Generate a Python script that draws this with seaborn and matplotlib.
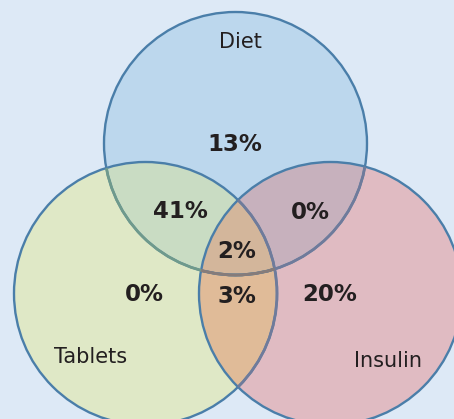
import numpy as np
import matplotlib
matplotlib.use("Agg")
import matplotlib.pyplot as plt
from matplotlib.patches import Circle, PathPatch
from matplotlib.path import Path
import seaborn as sns

# Set names and share of patients in each region of the diagram
set_names = ["Diet", "Tablets", "Insulin"]
region_keys = ["D", "T", "I", "DT", "DI", "TI", "DTI"]
region_pct = [13, 0, 20, 41, 0, 3, 2]

sns.set_theme(style="white")
plt.rcParams["font.family"] = ["DejaVu Sans"]

BG = "#dde9f6"
EDGE = "#4a7ea9"
region_colors = {
    "D": "#bcd7ed",
    "T": "#dfe8c6",
    "I": "#e0bbc2",
    "DT": "#c9dcc3",
    "DI": "#c7b1bd",
    "TI": "#e0bb98",
    "DTI": "#d3b69b",
}
# outline tone where an earlier circle's edge is seen through a later one
edge_under = {"Tablets": "#6f9a8c", "Insulin": "#6f7b9b"}
edge_under_both = "#867c7a"

# Circle layout (pixel-like coordinates, y grows downward)
R = 131.5
centers = {"Diet": (235.5, 143.5), "Tablets": (145.5, 293.5), "Insulin": (330.5, 293.5)}
short = {"Diet": "D", "Tablets": "T", "Insulin": "I"}
label_pos = {
    "D": (235, 144), "T": (144, 294), "I": (330, 294),
    "DT": (180, 211), "DI": (310, 212), "TI": (237, 296), "DTI": (237, 251),
}
name_pos = {"Diet": (240, 42), "Tablets": (91, 357), "Insulin": (388, 361)}

fig = plt.figure(figsize=(4.54, 4.19), dpi=100)
fig.patch.set_facecolor(BG)
ax = fig.add_axes([0, 0, 1, 1])
ax.set_facecolor(BG)
ax.set_xlim(0, 454)
ax.set_ylim(419, 0)
ax.axis("off")


def circ(name, **kw):
    return Circle(centers[name], R, transform=ax.transData, **kw)


def pair_key(a, b):
    k = short[a] + short[b]
    return "".join(sorted(k, key="DTI".index))


# single-set fills
for key, name in [("T", "Tablets"), ("I", "Insulin"), ("D", "Diet")]:
    ax.add_patch(circ(name, facecolor=region_colors[key], edgecolor="none", zorder=1))

# pairwise overlaps: one circle clipped by the other
for a, b in [("Diet", "Tablets"), ("Diet", "Insulin"), ("Tablets", "Insulin")]:
    p = circ(a, facecolor=region_colors[pair_key(a, b)], edgecolor="none", zorder=2)
    ax.add_patch(p)
    p.set_clip_path(circ(b))


# lens of Tablets and Insulin, used to clip Diet for the triple overlap
def lens_path(a, b, n=200):
    (ax_, ay), (bx, by) = centers[a], centers[b]
    d = np.hypot(bx - ax_, by - ay)
    th = np.arccos(d / (2 * R))
    base = np.arctan2(by - ay, bx - ax_)
    t1 = np.linspace(base - th, base + th, n)
    t2 = np.linspace(base + np.pi - th, base + np.pi + th, n)
    pts = np.vstack([
        np.column_stack([ax_ + R * np.cos(t1), ay + R * np.sin(t1)]),
        np.column_stack([bx + R * np.cos(t2), by + R * np.sin(t2)]),
    ])
    return Path(np.vstack([pts, pts[:1]]), closed=True)


p = circ("Diet", facecolor=region_colors["DTI"], edgecolor="none", zorder=3)
ax.add_patch(p)
p.set_clip_path(PathPatch(lens_path("Tablets", "Insulin"), transform=ax.transData))

# outlines
LW = 1.7
for name in set_names:
    ax.add_patch(circ(name, facecolor="none", edgecolor=EDGE, linewidth=LW, zorder=4))

# edges of earlier circles seen through the later ones
for i, a in enumerate(set_names):
    for b in set_names[i + 1:]:
        o = circ(a, facecolor="none", edgecolor=edge_under[b], linewidth=LW + 0.3, zorder=4.5)
        ax.add_patch(o)
        o.set_clip_path(circ(b))
o = circ("Diet", facecolor="none", edgecolor=edge_under_both, linewidth=LW + 0.3, zorder=4.6)
ax.add_patch(o)
o.set_clip_path(PathPatch(lens_path("Tablets", "Insulin"), transform=ax.transData))

for key, pct in zip(region_keys, region_pct):
    x, y = label_pos[key]
    ax.text(x, y, f"{pct}%", ha="center", va="center", fontsize=16.5,
            fontweight="bold", color="#231f20", zorder=5)

for name in set_names:
    x, y = name_pos[name]
    ax.text(x, y, name, ha="center", va="center", fontsize=15,
            color="#231f20", zorder=5)

fig.savefig("out.png", dpi=100, facecolor=BG)
